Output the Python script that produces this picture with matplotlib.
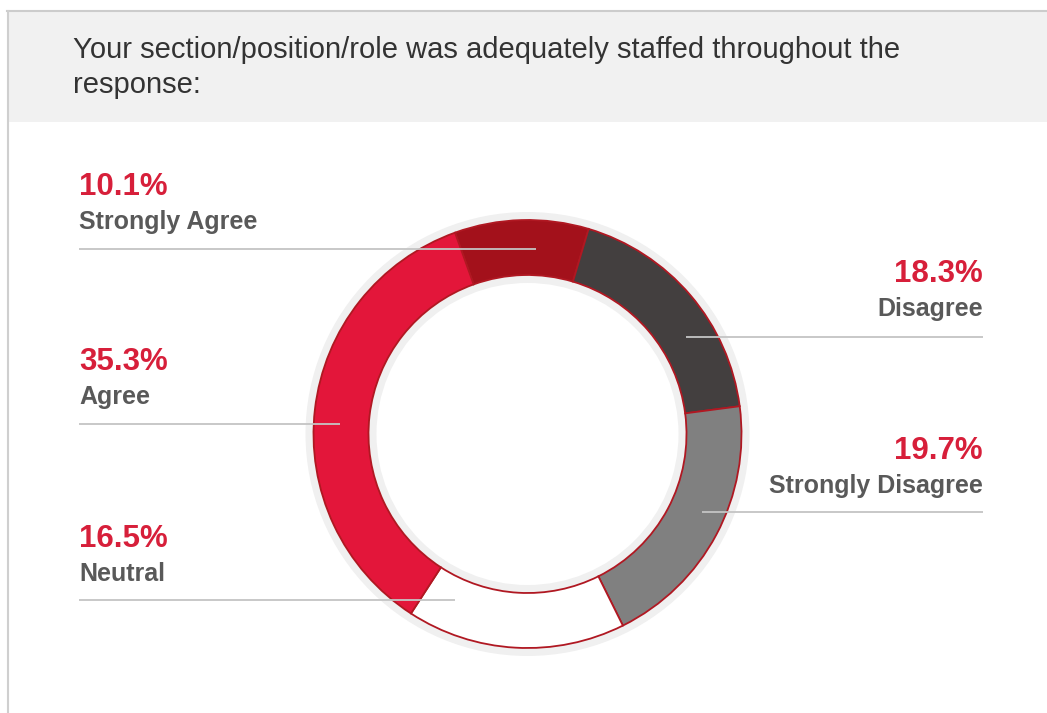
import matplotlib.pyplot as plt
from matplotlib.patches import Circle, Rectangle

W, H = 1047, 713

# data, clockwise from the top
categories = ["Strongly Agree", "Disagree", "Strongly Disagree", "Neutral", "Agree"]
values = [10.1, 18.3, 19.7, 16.5, 35.3]
colors = ["#a3111b", "#433f3f", "#808080", "#ffffff", "#e3163a"]

title_lines = ["Your section/position/role was adequately staffed throughout the",
               "response:"]

# label layout (pixels from top-left): text x, percent y, line y, line x0, line x1, side
label_pos = {
    "Strongly Agree":    (79, 187, 249, 79, 536, "left"),
    "Agree":             (79, 362, 424, 79, 340, "left"),
    "Neutral":           (79, 539, 600, 79, 455, "left"),
    "Disagree":          (983, 274, 337, 686, 983, "right"),
    "Strongly Disagree": (983, 451, 512, 702, 983, "right"),
}

cx, cy, r_out, ring = 527.5, 434, 214, 55

def Y(y):
    return H - y

fig = plt.figure(figsize=(W / 100, H / 100), dpi=100)
ax = fig.add_axes([0, 0, 1, 1])

# card background / header band
ax.add_patch(Rectangle((8, Y(122)), W - 8, 112, facecolor="#f1f1f1", edgecolor="none", zorder=0))
ax.plot([7, W], [Y(10.5), Y(10.5)], color="#cccccc", lw=1.5, zorder=1)
ax.plot([7.5, 7.5], [Y(10.5), 0], color="#cfcfcf", lw=1.5, zorder=1)
for i, line in enumerate(title_lines):
    ax.text(73, Y(50 + 35 * i), line, fontsize=21, color="#333333", family="Liberation Sans",
            va="center", ha="left")

# soft halo around the ring
ax.add_patch(Circle((cx, Y(cy)), r_out + 8, facecolor="#f0f0f0", edgecolor="none", zorder=1))

wedges, _ = ax.pie(values, colors=colors, startangle=109.8, counterclock=False,
                   radius=r_out, center=(cx, Y(cy)),
                   wedgeprops=dict(width=ring, edgecolor="#b01822", linewidth=1.3))
for w in wedges:
    w.set_zorder(2)

ax.add_patch(Circle((cx, Y(cy)), r_out - ring - 8, facecolor="white", edgecolor="none", zorder=2))

# labels and leader lines
for cat, val in zip(categories, values):
    tx, py, ly, x0, x1, side = label_pos[cat]
    ax.plot([x0, x1], [Y(ly), Y(ly)], color="#c4c4c4", lw=1.3, zorder=3,
            solid_capstyle="butt")
    ax.text(tx, Y(py), f"{val:.1f}%", fontsize=22.5, fontweight="bold", color="#d71f3a",
            family="Liberation Sans", ha=side, va="center")
    ax.text(tx, Y(py + 35), cat, fontsize=18, fontweight="bold", color="#595959",
            family="Liberation Sans", ha=side, va="center")

ax.set_xlim(0, W)
ax.set_ylim(0, H)
ax.set_aspect("equal")
ax.axis("off")

fig.savefig("out.png", dpi=100, facecolor="white")
